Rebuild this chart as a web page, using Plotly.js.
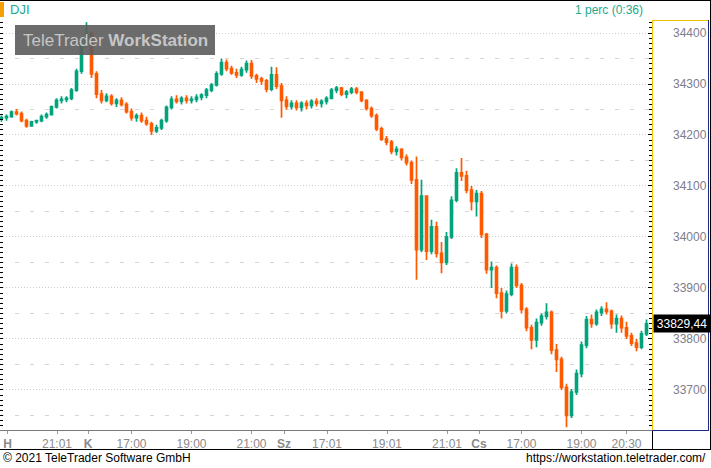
<!DOCTYPE html>
<html>
<head>
<meta charset="utf-8">
<script src="https://cdn.plot.ly/plotly-3.0.1.min.js"></script>
<style>html,body{margin:0;padding:0;background:#fff}#chart{width:711px;height:468px}</style>
</head>
<body>
<div id="chart"></div>
<script>
// ---- data (10-minute bars) ----
const dayLabels   = ['H', 'K', 'Sz', 'Cs'];
const dayFirstBar = ['19:10', '15:30', '15:30', '15:30'];
const dayBarCount = [17, 39, 39, 35];
const barMinutes  = 10;

const open = [
  // H
  34232,34234,34236,34245,34242,34228,34218,34226,34228,34236,34240,34255,34268,34270,34272,34288,34325,
  // K
  34378,34398,34320,34280,34268,34276,34262,34268,34260,34246,34234,34238,34228,34222,34208,34214,34228,34254,34270,34266,
  34272,34268,34270,34274,34278,34288,34298,34320,34342,34330,34322,34318,34328,34340,34316,34310,34306,34290,34318,
  // Sz
  34296,34268,34256,34262,34254,34262,34258,34266,34262,34266,34272,34288,34292,34280,34284,34290,34284,34268,34252,34238,
  34212,34192,34186,34168,34172,34156,34146,34112,33975,34080,33972,34020,33968,33950,34000,34072,34126,34120,34092,
  // Cs
  34070,34085,34005,33936,33940,33890,33855,33888,33940,33905,33858,33822,33798,33832,33845,33852,33778,33760,33705,33650,
  33696,33732,33788,33838,33830,33852,33858,33854,33830,33840,33822,33806,33792,33784,33810
];
const high = [
  34238,34240,34248,34251,34246,34232,34228,34230,34240,34244,34258,34272,34276,34276,34292,34330,34385,
  34421,34402,34325,34288,34282,34280,34272,34274,34264,34252,34242,34244,34236,34226,34220,34232,34258,34276,34278,34276,
  34278,34276,34280,34282,34292,34302,34325,34350,34348,34336,34330,34334,34346,34347,34320,34314,34310,34334,34333,
  34302,34276,34268,34268,34266,34268,34270,34272,34270,34276,34292,34296,34294,34288,34294,34294,34286,34270,34256,34242,
  34216,34198,34190,34178,34174,34162,34150,34158,34112,34082,34034,34030,33990,34010,34080,34135,34155,34130,34100,
  34092,34090,34008,33952,33944,33900,33895,33948,33946,33910,33862,33828,33840,33850,33870,33856,33790,33765,33712,33702,
  33740,33795,33845,33848,33858,33864,33872,33858,33848,33846,33834,33812,33800,33816,33838
];
const low = [
  34226,34228,34234,34238,34225,34214,34216,34222,34225,34232,34238,34252,34262,34264,34268,34285,34320,
  34372,34312,34272,34262,34264,34258,34255,34256,34242,34228,34226,34224,34218,34200,34204,34210,34224,34250,34262,34260,
  34262,34262,34264,34268,34272,34284,34295,34316,34325,34318,34312,34314,34322,34310,34302,34298,34284,34286,34290,
  34234,34250,34250,34248,34246,34250,34252,34256,34254,34260,34270,34282,34276,34272,34280,34280,34264,34248,34234,34208,
  34188,34180,34162,34160,34150,34140,34104,33916,33970,33955,33966,33960,33929,33945,33996,34068,34110,34086,34052,
  34040,33998,33928,33900,33880,33840,33850,33884,33900,33850,33815,33780,33784,33826,33838,33770,33735,33700,33627,33645,
  33690,33725,33782,33822,33826,33845,33848,33820,33812,33812,33800,33786,33776,33780,33806
];
const close = [
  34234,34236,34245,34242,34228,34218,34226,34228,34236,34240,34255,34268,34270,34272,34288,34325,34378,
  34398,34320,34280,34268,34276,34262,34268,34260,34246,34234,34238,34228,34222,34208,34214,34228,34254,34270,34266,34272,
  34268,34270,34274,34278,34288,34298,34320,34342,34330,34322,34318,34328,34340,34316,34310,34306,34290,34318,34296,
  34268,34256,34262,34254,34262,34258,34266,34262,34266,34272,34288,34292,34280,34284,34290,34284,34268,34252,34238,34212,
  34192,34186,34168,34172,34156,34146,34112,33975,34080,33972,34020,33968,33950,34000,34072,34126,34120,34092,34070,
  34085,34005,33936,33940,33890,33855,33888,33940,33905,33858,33822,33798,33832,33845,33852,33778,33760,33705,33650,33696,
  33732,33788,33838,33830,33852,33858,33854,33830,33840,33822,33806,33792,33784,33810,33829.44
];
const lastPrice = 33829.44;

const tickDay  = [0, 0, 1, 1, 1, 1, 2, 2, 2, 2, 3, 3, 3, 3];
const tickTime = ['19:22','21:01','15:33','17:00','19:00','21:00','15:35','17:01','19:01','21:01','15:35','17:00','19:00','20:30'];
const tickText = ['<b>H</b>','21:01','<b>K</b>','17:00','19:00','21:00','<b>Sz</b>','17:01','19:01','21:01','<b>Cs</b>','17:00','19:00','20:30'];

// ---- trading-time axis: each session 15:30-22:00 (390 min) placed back to back ----
const SESSION = 390;
function tmin(s){ const p = s.split(':'); return (+p[0])*60 + (+p[1]) - (15*60+30); }
function tx(day, s){ return day*SESSION + tmin(s); }

const x = [];
dayFirstBar.forEach((s, d) => {
  for (let i = 0; i < dayBarCount[d]; i++) x.push(tx(d, s) + i*barMinutes);
});
const tickVals = tickDay.map((d, i) => tx(d, tickTime[i]));

const W = 652, TOP = 20, BOT = 430, H = BOT - TOP;
const px = X => X / W;
const py = Y => (BOT - Y) / H;
const yRange = [33621.5, 34425.5];

const UP = '#00A37B', DOWN = '#FF5A00', TEAL = '#1BA98F';

const traces = [
  {
    type: 'candlestick', x: x, open: open, high: high, low: low, close: close,
    increasing: {line: {color: UP, width: 1.7}, fillcolor: UP},
    decreasing: {line: {color: DOWN, width: 1.7}, fillcolor: DOWN},
    whiskerwidth: 0, hoverinfo: 'skip', showlegend: false
  },
  {type: 'scatter', x: [], y: [], yaxis: 'y2', showlegend: false},
  {type: 'scatter', x: [], y: [], yaxis: 'y3', showlegend: false}
];

const line = (x0,y0,x1,y1,color,w) => ({type:'line', xref:'paper', yref:'paper', x0:x0, y0:y0, x1:x1, y1:y1, line:{color:color, width:w||1}, layer:'above'});

const layout = {
  width: 711, height: 468,
  margin: {l: 0, r: 59, t: 20, b: 38, pad: 0},
  paper_bgcolor: '#fff', plot_bgcolor: '#fff',
  font: {family: 'Liberation Sans, Arial, sans-serif', size: 12},
  showlegend: false,
  boxgap: 0.45,
  xaxis: {
    type: 'linear', range: [217, 217 + 2*W],
    tickvals: tickVals, ticktext: tickText, ticklabeloverflow: 'allow',
    tickfont: {size: 12, color: '#8a8a8a'},
    ticks: 'outside', ticklen: 3, tickcolor: '#9a9a9a',
    showline: true, linecolor: '#7a7a7a', linewidth: 1,
    showgrid: false, zeroline: false, rangeslider: {visible: false}, fixedrange: true
  },
  yaxis: {
    side: 'right', range: yRange, tick0: 0, dtick: 100, tickformat: 'd',
    ticks: 'inside', ticklen: 4, tickcolor: '#000',
    tickfont: {size: 12, color: '#7d7d8c'}, ticklabelstandoff: 20,
    showgrid: true, gridcolor: '#cccccc', griddash: '1px,2px',
    minor: {dtick: 10, ticks: 'inside', ticklen: 3, tickcolor: '#000', showgrid: false},
    zeroline: false, showline: false, fixedrange: true
  },
  yaxis2: {
    overlaying: 'y', side: 'left', range: yRange, tick0: 0, dtick: 10,
    ticks: 'inside', ticklen: 3, tickcolor: '#000', showticklabels: false,
    showgrid: false, zeroline: false, showline: false, fixedrange: true
  },
  yaxis3: {
    overlaying: 'y', side: 'right', range: yRange, tick0: 34350, dtick: 100,
    ticks: '', showticklabels: false,
    showgrid: true, gridcolor: '#d6d6d6', griddash: '4px,11px',
    zeroline: false, showline: false, fixedrange: true
  },
  shapes: [
    // watermark box
    {type:'rect', xref:'paper', yref:'paper', x0:px(15), x1:px(215), y0:py(55), y1:py(25),
     fillcolor:'rgba(92,92,92,0.9)', line:{width:0}, layer:'above'},
    // orange marker by the symbol
    {type:'rect', xref:'paper', yref:'paper', x0:px(0), x1:px(4), y0:py(17), y1:py(2),
     fillcolor:'#F5A000', line:{width:0}, layer:'above'},
    // price-scale panel frame
    line(px(652.5), py(20), px(652.5), py(430), '#F2C200'),
    line(px(652), py(20.5), px(708.5), py(20.5), '#F2C200'),
    line(px(708.5), py(20), px(708.5), py(430.5), '#1A2A8A'),
    line(px(652), py(430.5), px(709), py(430.5), '#1A2A8A'),
    // outer frame
    line(px(0), py(0.5), px(711), py(0.5), '#000'),
    line(px(710.5), py(0), px(710.5), py(450), '#000'),
    line(px(0), py(449.5), px(711), py(449.5), '#000'),
    line(px(652.5), py(431), px(652.5), py(450), '#000')
  ],
  annotations: [
    {xref:'paper', yref:'paper', x:px(8), y:py(10), xanchor:'left', yanchor:'middle',
     text:'DJI', showarrow:false, font:{size:13, color:TEAL}},
    {xref:'paper', yref:'paper', x:px(645), y:py(10), xanchor:'right', yanchor:'middle',
     text:'1 perc (0:36)', showarrow:false, font:{size:12, color:TEAL}},
    {xref:'paper', yref:'paper', x:px(115), y:py(40), xanchor:'center', yanchor:'middle',
     text:'TeleTrader <b>WorkStation</b>', showarrow:false, font:{size:17, color:'#c6c6c6'}},
    {xref:'paper', yref:'paper', x:px(1), y:py(458), xanchor:'left', yanchor:'middle',
     text:'© 2021 TeleTrader Software GmbH', showarrow:false, font:{size:12, color:'#000'}},
    {xref:'paper', yref:'paper', x:px(708), y:py(458), xanchor:'right', yanchor:'middle',
     text:'https://workstation.teletrader.com/', showarrow:false,
     font:{family:'Liberation Sans Narrow, Liberation Sans, Arial', size:12, color:'#000'}},
    {xref:'paper', yref:'y', x:px(653), y:lastPrice, xanchor:'left', yanchor:'middle',
     text:String(lastPrice).replace('.', ','), showarrow:false, bgcolor:'#000', borderpad:1,
     width:54, height:15, align:'center', font:{size:12, color:'#fff'}}
  ]
};

Plotly.newPlot('chart', traces, layout, {displayModeBar: false, staticPlot: true});
</script>
</body>
</html>
